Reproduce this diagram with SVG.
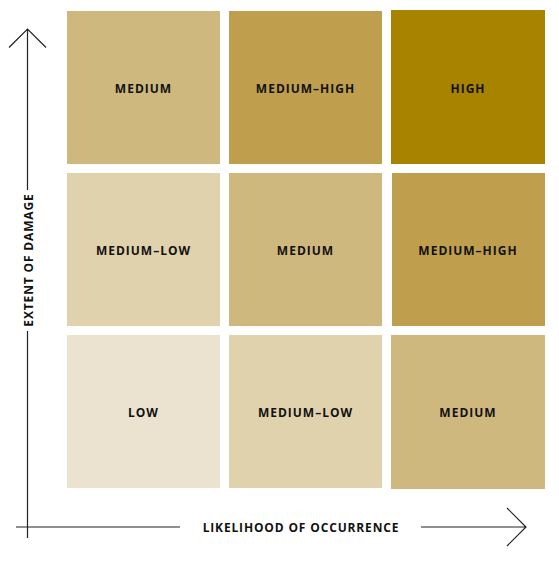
<svg xmlns="http://www.w3.org/2000/svg" width="559" height="561" viewBox="0 0 559 561">
<style>
.lbl{font-family:"Open Sans","Noto Sans",sans-serif;font-weight:bold;font-size:12px;letter-spacing:1px;fill:#111;text-anchor:middle;dominant-baseline:central}
.ax{font-family:"Open Sans","Noto Sans",sans-serif;font-weight:bold;font-size:12px;letter-spacing:0.85px;fill:#111;text-anchor:middle;dominant-baseline:central}
.axl{stroke:#222;stroke-width:1.2;fill:none}
.high{fill:#a88300}.mh{fill:#bf9f4d}.med{fill:#cfb87d}.ml{fill:#e0d2ac}.low{fill:#ebe3cf}
</style>
<rect width="559" height="561" fill="#fff"/>
<g id="r1c1"><rect class="med" x="67" y="11" width="153" height="153"/><text class="lbl" x="143.5" y="88">MEDIUM</text></g>
<g id="r1c2"><rect class="mh" x="229" y="11" width="153" height="153"/><text class="lbl" x="305.5" y="88">MEDIUM–HIGH</text></g>
<g id="r1c3"><rect class="high" x="391" y="10" width="154" height="154"/><text class="lbl" x="468" y="88">HIGH</text></g>
<g id="r2c1"><rect class="ml" x="67" y="173" width="153" height="153"/><text class="lbl" x="143.5" y="250">MEDIUM–LOW</text></g>
<g id="r2c2"><rect class="med" x="229" y="173" width="153" height="153"/><text class="lbl" x="305.5" y="250">MEDIUM</text></g>
<g id="r2c3"><rect class="mh" x="392" y="173" width="153" height="153"/><text class="lbl" x="468" y="250">MEDIUM–HIGH</text></g>
<g id="r3c1"><rect class="low" x="67" y="335" width="153" height="153"/><text class="lbl" x="143.5" y="412">LOW</text></g>
<g id="r3c2"><rect class="ml" x="229" y="335" width="153" height="153"/><text class="lbl" x="305.5" y="412">MEDIUM–LOW</text></g>
<g id="r3c3"><rect class="med" x="391" y="335" width="154" height="154"/><text class="lbl" x="468" y="412">MEDIUM</text></g>
<g id="axes">
<path class="axl" d="M27.5 29V190M27.5 331V538M9 47.5L27.5 29L46 47.5"/>
<path class="axl" d="M16 527H180M421 527H526M507 508L526 527L507 546"/>
<text class="ax" transform="translate(28 260) rotate(-90)">EXTENT OF DAMAGE</text>
<text class="ax" x="301" y="527">LIKELIHOOD OF OCCURRENCE</text>
</g>
</svg>
